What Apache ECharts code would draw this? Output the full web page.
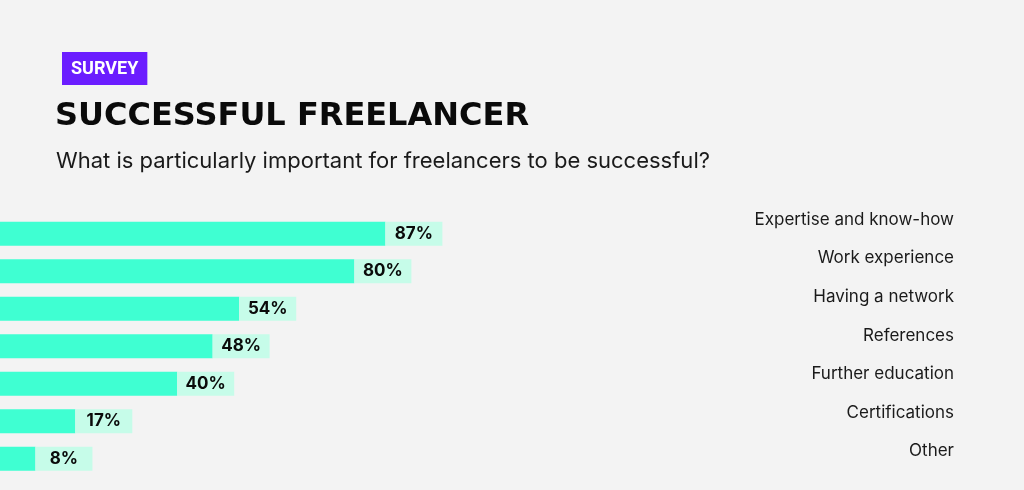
<!DOCTYPE html>
<html><head><meta charset="utf-8">
<script src="https://cdn.jsdelivr.net/npm/echarts@6/dist/echarts.min.js"></script>
<style>html,body{margin:0;padding:0;background:#f3f3f3;}#c{width:1024px;height:490px;}</style>
</head><body><div id="c"></div>
<script>
const categories = ["Expertise and know-how","Work experience","Having a network","References","Further education","Certifications","Other"];
const values = [87, 80, 54, 48, 40, 17, 8];
const titleText = "SUCCESSFUL FREELANCER";
const subtitleText = "What is particularly important for freelancers to be successful?";
const tagText = "SURVEY";

const chart = echarts.init(document.getElementById('c'));
chart.setOption({
  backgroundColor: '#f3f3f3',
  animation: false,
  title: [
    {text: tagText, left: 62, top: 52, backgroundColor: '#6b1dff', padding: [8, 9, 7, 9],
     textStyle: {color: '#ffffff', fontSize: 18, fontWeight: 'bold', fontFamily: 'Roboto', lineHeight: 18}},
    {text: titleText, left: 55, top: 101, padding: 0,
     textStyle: {color: '#0a0a0a', fontSize: 32, fontWeight: 900, fontFamily: 'DejaVu Sans'}},
    {text: subtitleText, left: 56, top: 150, padding: 0,
     textStyle: {color: '#1a1a1a', fontSize: 22, fontWeight: 'normal', fontFamily: 'Inter'}}
  ],
  grid: [
    {left: 0, width: 443, top: 215, height: 262.5},
    {right: 70, width: 300, top: 200.5, height: 270}
  ],
  xAxis: [
    {gridIndex: 0, type: 'value', min: 0, max: 100, show: false},
    {gridIndex: 1, type: 'value', min: 0, max: 100, show: false}
  ],
  yAxis: [
    {gridIndex: 0, type: 'category', data: categories, inverse: true, show: false},
    {gridIndex: 1, type: 'category', data: categories, inverse: true, position: 'right',
     axisLine: {show: false}, axisTick: {show: false},
     axisLabel: {inside: true, color: '#1a1a1a', fontSize: 17, fontFamily: 'Inter', margin: 0}}
  ],
  series: [{
    type: 'bar', xAxisIndex: 0, yAxisIndex: 0, data: values, barWidth: 24,
    itemStyle: {color: '#3fffd2'},
    label: {show: true, position: 'right', distance: 0, formatter: '{a|{c}%}',
      rich: {a: {width: 57, height: 24, lineHeight: 24, align: 'center', backgroundColor: '#c6fce9',
        color: '#0a0a0a', fontSize: 17, fontWeight: 'bold', fontFamily: 'Inter'}}}
  }]
});
</script></body></html>
